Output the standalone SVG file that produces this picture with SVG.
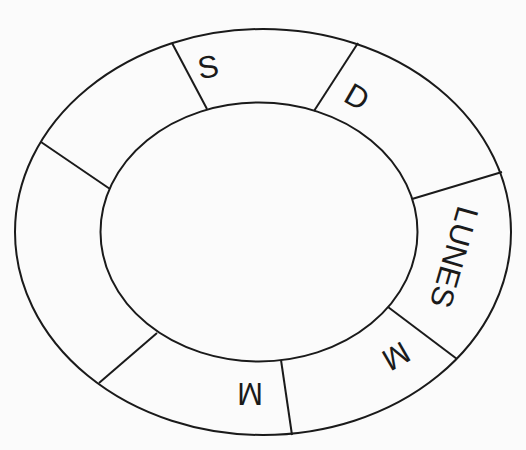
<svg xmlns="http://www.w3.org/2000/svg" width="526" height="450" viewBox="0 0 526 450">
<style>
.ln{fill:none;stroke:#1a1a1a;stroke-width:2}
.lb{font-family:"Liberation Sans",Arial,sans-serif;font-size:31px;fill:#1a1a1a;text-anchor:middle;dominant-baseline:central}
</style>
<rect width="526" height="450" fill="#fbfbfb"/>
<g id="ring">
<ellipse class="ln" cx="263" cy="232" rx="248" ry="203"/>
<ellipse class="ln" cx="259" cy="232" rx="158.5" ry="129.5"/>
</g>
<g id="connectors">
<line class="ln" x1="172" y1="43" x2="207" y2="109"/>
<line class="ln" x1="358" y1="43" x2="314" y2="111"/>
<line class="ln" x1="502" y1="172" x2="412" y2="199"/>
<line class="ln" x1="457" y1="359" x2="388" y2="307"/>
<line class="ln" x1="292" y1="435" x2="281" y2="360"/>
<line class="ln" x1="99" y1="383" x2="157" y2="333"/>
<line class="ln" x1="41" y1="142" x2="110" y2="189"/>
</g>
<g id="seg-s"><text class="lb" transform="translate(208,67) rotate(-10)">S</text></g>
<g id="seg-d"><text class="lb" transform="translate(357,97) rotate(30)">D</text></g>
<g id="seg-lunes"><text class="lb" transform="translate(454,257) rotate(106)">LUNES</text></g>
<g id="seg-m1"><text class="lb" transform="translate(396,356) rotate(150)">M</text></g>
<g id="seg-m2"><text class="lb" transform="translate(250,393) rotate(180)">M</text></g>
<g id="seg-blank1"></g>
<g id="seg-blank2"></g>
</svg>
